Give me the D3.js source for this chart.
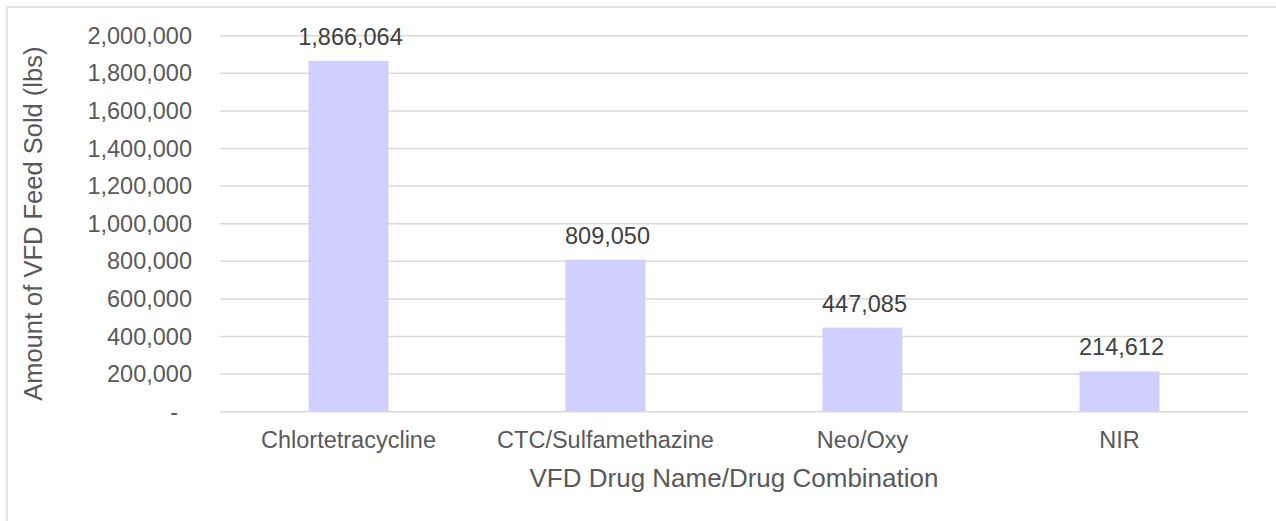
<!DOCTYPE html>
<html>
<head>
<meta charset="utf-8">
<script src="https://cdn.jsdelivr.net/npm/d3@7"></script>
<style>
  html, body { margin: 0; padding: 0; background: #fff; }
  svg { display: block; font-family: "Liberation Sans", Arial, sans-serif; }
</style>
</head>
<body>
<div id="chart"></div>
<script>
// chart data
const categories = ['Chlortetracycline', 'CTC/Sulfamethazine', 'Neo/Oxy', 'NIR'];
const values = [1866064, 809050, 447085, 214612];
const yTicks = [0, 200000, 400000, 600000, 800000, 1000000, 1200000, 1400000, 1600000, 1800000, 2000000];
const yTitle = 'Amount of VFD Feed Sold (lbs)';
const xTitle = 'VFD Drug Name/Drug Combination';

const width = 1276, height = 521;
const plot = { left: 220, right: 1248, top: 35.7, bottom: 411.7 };
const textColor = '#595959';
const barColor = '#d0d0ff';

const svg = d3.select('#chart').append('svg')
  .attr('width', width)
  .attr('height', height);

// chart border (only top/left visible in the crop)
svg.append('rect')
  .attr('x', 7).attr('y', 7)
  .attr('width', width + 20).attr('height', height + 20)
  .attr('fill', 'none')
  .attr('stroke', '#d9d9d9')
  .attr('stroke-width', 1.5);

const x = d3.scaleBand()
  .domain(categories)
  .range([plot.left, plot.right]);

const y = d3.scaleLinear()
  .domain([0, 2000000])
  .range([plot.bottom, plot.top]);

const fmt = d3.format(',');

// grid lines
svg.append('g')
  .selectAll('line')
  .data(yTicks)
  .join('line')
  .attr('x1', plot.left)
  .attr('x2', plot.right)
  .attr('y1', d => y(d))
  .attr('y2', d => y(d))
  .attr('stroke', '#d9d9d9')
  .attr('stroke-width', 1.5);

// y axis labels
const yAxis = svg.append('g')
  .attr('transform', `translate(${plot.left - 28},0)`)
  .call(d3.axisLeft(y).tickValues(yTicks).tickSize(0).tickPadding(0)
    .tickFormat(d => d === 0 ? '-' : fmt(d)));
yAxis.select('.domain').remove();
yAxis.selectAll('text')
  .attr('font-family', '"Liberation Sans", Arial, sans-serif')
  .attr('font-size', 23.5)
  .attr('fill', textColor)
  .attr('dx', d => d === 0 ? -14 : 0);

// bars
const barW = 80;
svg.append('g')
  .selectAll('rect')
  .data(values)
  .join('rect')
  .attr('x', (d, i) => x(categories[i]) + x.bandwidth() / 2 - barW / 2)
  .attr('y', d => y(d))
  .attr('width', barW)
  .attr('height', d => y(0) - y(d))
  .attr('fill', barColor);

// value labels
svg.append('g')
  .selectAll('text')
  .data(values)
  .join('text')
  .attr('x', (d, i) => x(categories[i]) + x.bandwidth() / 2 + 2)
  .attr('y', d => y(d) - 16)
  .attr('text-anchor', 'middle')
  .attr('font-size', 23.5)
  .attr('fill', '#404040')
  .text(d => fmt(d));

// x axis labels
const xAxis = svg.append('g')
  .attr('transform', `translate(0,${plot.bottom})`)
  .call(d3.axisBottom(x).tickSize(0).tickPadding(0));
xAxis.select('.domain').remove();
xAxis.selectAll('text')
  .attr('font-family', '"Liberation Sans", Arial, sans-serif')
  .attr('font-size', 23.5)
  .attr('fill', textColor)
  .attr('dy', null)
  .attr('y', 36);

// axis titles
svg.append('text')
  .attr('x', (plot.left + plot.right) / 2)
  .attr('y', 487)
  .attr('text-anchor', 'middle')
  .attr('font-size', 26)
  .attr('fill', textColor)
  .text(xTitle);

svg.append('text')
  .attr('transform', `translate(42,${(plot.top + plot.bottom) / 2}) rotate(-90)`)
  .attr('text-anchor', 'middle')
  .attr('font-size', 25.5)
  .attr('fill', textColor)
  .text(yTitle);
</script>
</body>
</html>
